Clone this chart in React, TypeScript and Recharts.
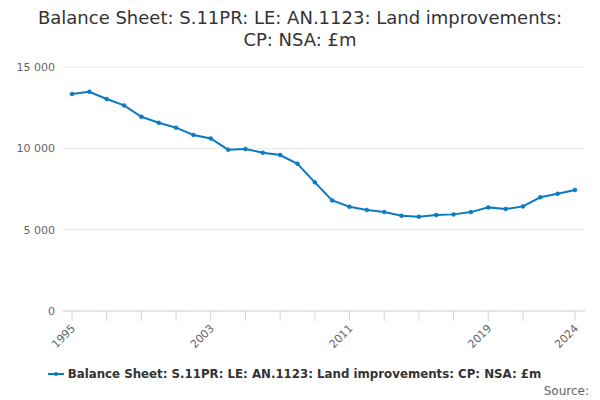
import React from "react";
import { LineChart, Line, XAxis, YAxis, CartesianGrid } from "recharts";

const years = [1995,1996,1997,1998,1999,2000,2001,2002,2003,2004,2005,2006,2007,2008,2009,2010,2011,2012,2013,2014,2015,2016,2017,2018,2019,2020,2021,2022,2023,2024];
const values = [13340,13480,13030,12640,11940,11570,11270,10820,10610,9920,9960,9730,9590,9050,7910,6800,6410,6210,6080,5850,5800,5900,5940,6080,6370,6270,6430,6990,7210,7440];
const xTicks = [1995,1997,1999,2001,2003,2005,2007,2009,2011,2013,2015,2017,2019,2021,2024];
const xLabels = [1995,2003,2011,2019,2024];
const yTicks = [0,5000,10000,15000];
const seriesName = "Balance Sheet: S.11PR: LE: AN.1123: Land improvements: CP: NSA: £m";
const titleLines = ["Balance Sheet: S.11PR: LE: AN.1123: Land improvements:", "CP: NSA: £m"];

const data = years.map((y, i) => ({ year: y, value: values[i] }));
const COLOR = "#0b7bc1";
const FONT = "'DejaVu Sans', sans-serif";

const fmt = (v: number) => String(v).replace(/\B(?=(\d{3})+(?!\d))/g, " ");

const XTick = (props: any) => {
  const { x, y, payload } = props;
  if (!xLabels.includes(payload.value)) return null;
  const ax = x + 4;
  const ay = y + 6;
  return (
    <text x={ax} y={ay} transform={`rotate(-45, ${ax}, ${ay})`} textAnchor="end" fontSize={11} fill="#666" fontFamily={FONT}>
      {payload.value}
    </text>
  );
};

export default function App() {
  return (
    <div style={{ position: "absolute", left: 0, top: 0, width: 600, height: 400, background: "#fff", fontFamily: FONT }}>
      <div style={{ position: "absolute", left: 0, top: 7, width: 600, textAlign: "center", fontSize: 18, lineHeight: "22px", color: "#333" }}>
        {titleLines.map((t) => (<div key={t}>{t}</div>))}
      </div>
      <LineChart width={600} height={400} data={data} margin={{ top: 67, right: 15, bottom: 0, left: 0 }}>
        <CartesianGrid horizontal={true} vertical={false} stroke="#e6e6e6" />
        <XAxis
          dataKey="year"
          type="number"
          domain={[1995, 2024]}
          ticks={xTicks}
          interval={0}
          padding={{ left: 9, right: 10 }}
          stroke="#ccd6eb"
          tickSize={10}
          tickLine={{ stroke: "#ccd6eb" }}
          tick={<XTick />}
          height={89}
        />
        <YAxis
          type="number"
          domain={[0, 15000]}
          ticks={yTicks}
          width={63}
          axisLine={false}
          tickLine={false}
          tickSize={0}
          tickMargin={8}
          tickFormatter={fmt}
          tick={{ fontSize: 11, fill: "#666", fontFamily: FONT }}
        />
        <Line
          type="linear"
          dataKey="value"
          name={seriesName}
          stroke={COLOR}
          strokeWidth={2}
          dot={{ r: 2, fill: COLOR, stroke: COLOR, strokeWidth: 0.5 }}
          isAnimationActive={false}
        />
      </LineChart>
      <div style={{ position: "absolute", left: 0, top: 365, width: 588, display: "flex", justifyContent: "center", alignItems: "center" }}>
        <svg width={18} height={10} style={{ marginRight: 3 }}>
          <line x1={1} y1={5} x2={17} y2={5} stroke={COLOR} strokeWidth={2} />
          <circle cx={9} cy={5} r={2} fill={COLOR} />
        </svg>
        <span style={{ fontSize: 11.8, fontWeight: "bold", color: "#333", lineHeight: "18px" }}>{seriesName}</span>
      </div>
      <div style={{ position: "absolute", right: 11, top: 383, fontSize: 12, color: "#666", lineHeight: "16px" }}>Source:</div>
    </div>
  );
}
